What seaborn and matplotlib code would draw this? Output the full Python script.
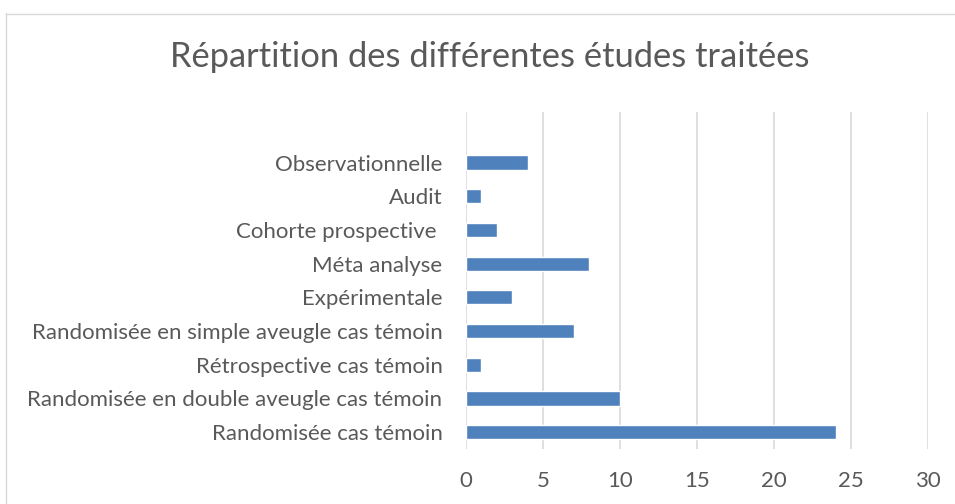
import matplotlib
matplotlib.use("Agg")
import matplotlib.pyplot as plt
import seaborn as sns
import pandas as pd
from matplotlib.lines import Line2D

categories = [
    "Observationnelle",
    "Audit",
    "Cohorte prospective ",
    "Méta analyse",
    "Expérimentale",
    "Randomisée en simple aveugle cas témoin",
    "Rétrospective cas témoin",
    "Randomisée en double aveugle cas témoin",
    "Randomisée cas témoin",
]
values = [4, 1, 2, 8, 3, 7, 1, 10, 24]
xticks = [0, 5, 10, 15, 20, 25, 30]
title = "Répartition des différentes études traitées"

sns.set_theme(style="white")
plt.rcParams['font.family'] = ['Lato', 'DejaVu Sans']

df = pd.DataFrame({"cat": categories, "val": values})

fig = plt.figure(figsize=(9.55, 5.04), dpi=100)
ax = fig.add_axes([466/955, 55/504, (928-466)/955, (449-112)/504])
sns.barplot(data=df, y="cat", x="val", orient="h", color="#4f81bd",
            saturation=1, width=0.42, ax=ax)
ax.set_ylim(len(categories) - 0.5, -1.5)
ax.set_xlim(0, 30)
ax.set_xticks(xticks)
ax.set_xticklabels([str(t) for t in xticks])
ax.set_xlabel("")
ax.set_ylabel("")
for s in ax.spines.values():
    s.set_visible(False)
ax.xaxis.grid(True, color="#d9d9d9", linewidth=1.2)
ax.yaxis.grid(False)
ax.set_axisbelow(True)
ax.tick_params(axis="both", length=0, colors="#595959", labelsize=16)
ax.tick_params(axis="y", pad=17)
ax.tick_params(axis="x", pad=16)

fig.text(490/955, 1 - 57/504, title, ha="center", va="center",
         fontsize=24.8, color="#595959")

# chart frame
fig.add_artist(Line2D([5.5/955, 5.5/955], [0, 1 - 13/504], transform=fig.transFigure,
                      color="#d9d9d9", linewidth=1))
fig.add_artist(Line2D([5.5/955, 1], [1 - 13.5/504, 1 - 13.5/504], transform=fig.transFigure,
                      color="#d9d9d9", linewidth=1))

fig.savefig("out.png", dpi=100, facecolor="white")
